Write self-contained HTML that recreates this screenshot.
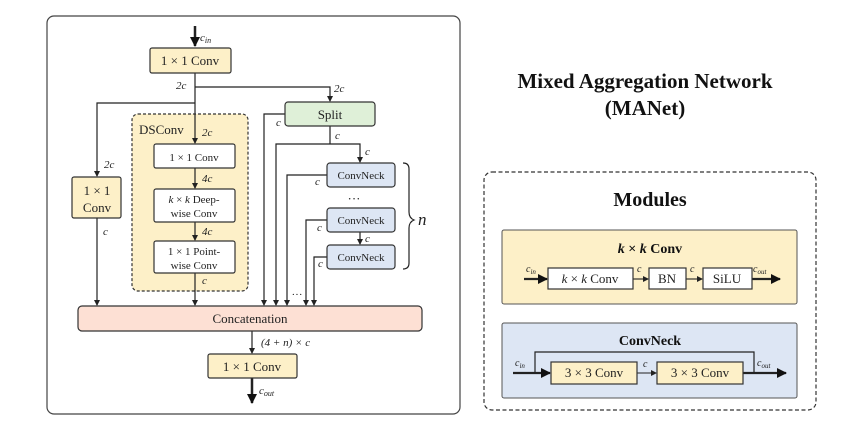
<!DOCTYPE html>
<html><head><meta charset="utf-8"><style>
html,body{margin:0;padding:0;background:#fff;}
svg{display:block;font-family:"Liberation Serif",serif;}
.i{font-style:italic;}
</style></head><body>
<svg width="864" height="432" viewBox="0 0 864 432" xmlns="http://www.w3.org/2000/svg">
<defs>
<marker id="a" markerWidth="6" markerHeight="6" refX="5" refY="3" orient="auto" markerUnits="userSpaceOnUse"><path d="M0,0 L6,3 L0,6 z" fill="#222"/></marker>
<marker id="b" markerWidth="10" markerHeight="10" refX="9" refY="5" orient="auto" markerUnits="userSpaceOnUse"><path d="M0,0 L10,5 L0,10 z" fill="#111"/></marker>
</defs>
<rect x="47" y="16" width="413" height="398" rx="7" fill="#fff" stroke="#444" stroke-width="1.2"/>
<g stroke="#222" stroke-width="1.2" fill="none">
<line x1="195" y1="26" x2="195" y2="46" stroke-width="2.5" marker-end="url(#b)"/>
<line x1="195" y1="73" x2="195" y2="143" marker-end="url(#a)"/>
<polyline points="195,87 330,87 330,101" marker-end="url(#a)"/>
<polyline points="195,103 97,103 97,176" marker-end="url(#a)"/>
<line x1="97" y1="218" x2="97" y2="305" marker-end="url(#a)"/>
</g>
<rect x="132" y="114" width="116" height="177" rx="6" fill="#fdf0c8" stroke="#333" stroke-width="1.2" stroke-dasharray="3,2"/>
<g stroke="#222" stroke-width="1.2" fill="none">
<line x1="195" y1="114" x2="195" y2="143" marker-end="url(#a)"/>
<line x1="195" y1="168" x2="195" y2="188" marker-end="url(#a)"/>
<line x1="195" y1="222" x2="195" y2="240" marker-end="url(#a)"/>
<line x1="195" y1="273" x2="195" y2="305" marker-end="url(#a)"/>
<polyline points="286,114 264,114 264,305" marker-end="url(#a)"/>
<polyline points="330,126 330,144"/>
<polyline points="330,144 276,144 276,305" marker-end="url(#a)"/>
<polyline points="330,144 360,144 360,162" marker-end="url(#a)"/>
<polyline points="327,175 287,175 287,305" marker-end="url(#a)"/>
<polyline points="327,220 306,220 306,305" marker-end="url(#a)"/>
<polyline points="327,257 314,257 314,305" marker-end="url(#a)"/>
<line x1="360" y1="232" x2="360" y2="244" marker-end="url(#a)"/>
<line x1="252" y1="331" x2="252" y2="353" marker-end="url(#a)"/>
<line x1="252" y1="378" x2="252" y2="403" stroke-width="2.5" marker-end="url(#b)"/>
<path d="M403,163 q6,0 6,6 v43 q0,6 5,8 q-5,2 -5,8 v35 q0,6 -6,6"/>
</g>
<g stroke="#333" stroke-width="1.2">
<rect x="150" y="48" width="81" height="25" rx="2" fill="#fdf0c8"/>
<rect x="72" y="177" width="49" height="41" rx="2" fill="#fdf0c8"/>
<rect x="285" y="102" width="90" height="24" rx="3" fill="#dff0d8"/>
<rect x="154" y="144" width="81" height="24" rx="2" fill="#fff"/>
<rect x="154" y="189" width="81" height="33" rx="2" fill="#fff"/>
<rect x="154" y="241" width="81" height="32" rx="2" fill="#fff"/>
<rect x="327" y="163" width="68" height="24" rx="3" fill="#dde6f4"/>
<rect x="327" y="208" width="68" height="24" rx="3" fill="#dde6f4"/>
<rect x="327" y="245" width="68" height="24" rx="3" fill="#dde6f4"/>
<rect x="78" y="306" width="344" height="25" rx="4" fill="#fde0d4"/>
<rect x="208" y="354" width="89" height="24" rx="2" fill="#fdf0c8"/>
</g>
<g font-size="13" fill="#222" text-anchor="middle">
<text x="190" y="65">1 × 1  Conv</text>
<text x="97" y="195">1 × 1</text>
<text x="97" y="212">Conv</text>
<text x="330" y="119">Split</text>
<text x="194" y="161" font-size="11">1 × 1  Conv</text>
<text x="194" y="203" font-size="11"><tspan class="i">k</tspan> × <tspan class="i">k</tspan> Deep-</text>
<text x="194" y="217" font-size="11">wise Conv</text>
<text x="194" y="255" font-size="11">1 × 1  Point-</text>
<text x="194" y="269" font-size="11">wise Conv</text>
<text x="361" y="179" font-size="11">ConvNeck</text>
<text x="361" y="224" font-size="11">ConvNeck</text>
<text x="361" y="261" font-size="11">ConvNeck</text>
<text x="250" y="323">Concatenation</text>
<text x="252" y="371">1 × 1  Conv</text>
<text x="354" y="203">···</text>
<text x="297" y="298" font-size="11">···</text>
</g>
<text x="139" y="134" font-size="13" fill="#222">DSConv</text>
<g font-size="11" fill="#222" class="i">
<text x="200" y="41" font-style="italic">c<tspan font-size="8" dy="2">in</tspan></text>
<text x="176" y="89">2<tspan font-style="italic">c</tspan></text>
<text x="334" y="92">2<tspan font-style="italic">c</tspan></text>
<text x="104" y="168">2<tspan font-style="italic">c</tspan></text>
<text x="202" y="136">2<tspan font-style="italic">c</tspan></text>
<text x="202" y="182">4<tspan font-style="italic">c</tspan></text>
<text x="202" y="235">4<tspan font-style="italic">c</tspan></text>
<text x="202" y="284" font-style="italic">c</text>
<text x="103" y="235" font-style="italic">c</text>
<text x="276" y="126" font-style="italic">c</text>
<text x="335" y="139" font-style="italic">c</text>
<text x="365" y="155" font-style="italic">c</text>
<text x="315" y="185" font-style="italic">c</text>
<text x="317" y="231" font-style="italic">c</text>
<text x="365" y="242" font-style="italic">c</text>
<text x="318" y="267" font-style="italic">c</text>
<text x="261" y="346">(4 + <tspan font-style="italic">n</tspan>) × <tspan font-style="italic">c</tspan></text>
<text x="259" y="394" font-style="italic">c<tspan font-size="8" dy="2">out</tspan></text>
</g>
<text x="418" y="225" font-size="17" font-style="italic" fill="#222">n</text>

<g font-weight="bold" fill="#111" text-anchor="middle" font-size="21">
<text x="645" y="88">Mixed Aggregation Network</text>
<text x="645" y="115">(MANet)</text>
</g>
<rect x="484" y="172" width="332" height="238" rx="8" fill="#fff" stroke="#333" stroke-width="1.2" stroke-dasharray="4,2.5"/>
<text x="650" y="206" font-size="20" font-weight="bold" text-anchor="middle" fill="#111">Modules</text>
<rect x="502" y="230" width="295" height="74" rx="2" fill="#fdf0c8" stroke="#555" stroke-width="1"/>
<text x="650" y="253" font-size="14" font-weight="bold" text-anchor="middle" fill="#111"><tspan font-style="italic">k</tspan> × <tspan font-style="italic">k</tspan>  Conv</text>
<rect x="502" y="323" width="295" height="75" rx="2" fill="#dde6f4" stroke="#555" stroke-width="1"/>
<text x="650" y="345" font-size="14" font-weight="bold" text-anchor="middle" fill="#111">ConvNeck</text>
<g stroke="#222" fill="none">
<line x1="524" y1="279" x2="547" y2="279" stroke-width="2.2" marker-end="url(#b)"/>
<line x1="633" y1="279" x2="648" y2="279" stroke-width="1.1" marker-end="url(#a)"/>
<line x1="686" y1="279" x2="702" y2="279" stroke-width="1.1" marker-end="url(#a)"/>
<line x1="752" y1="279" x2="780" y2="279" stroke-width="2.2" marker-end="url(#b)"/>
<line x1="513" y1="373" x2="550" y2="373" stroke-width="2.2" marker-end="url(#b)"/>
<polyline points="535,373 535,352 754,352 754,373" stroke-width="1.2"/>
<line x1="637" y1="373" x2="656" y2="373" stroke-width="1.1" marker-end="url(#a)"/>
<line x1="743" y1="373" x2="786" y2="373" stroke-width="2.2" marker-end="url(#b)"/>
</g>
<g stroke="#333" stroke-width="1.2">
<rect x="548" y="268" width="85" height="21" fill="#fff"/>
<rect x="649" y="268" width="37" height="21" fill="#fff"/>
<rect x="703" y="268" width="49" height="21" fill="#fff"/>
<rect x="551" y="362" width="86" height="22" fill="#fdf0c8"/>
<rect x="657" y="362" width="86" height="22" fill="#fdf0c8"/>
</g>
<g font-size="13" fill="#222" text-anchor="middle">
<text x="590" y="283"><tspan font-style="italic">k</tspan> × <tspan font-style="italic">k</tspan> Conv</text>
<text x="667" y="283">BN</text>
<text x="727" y="283">SiLU</text>
<text x="594" y="377">3 × 3 Conv</text>
<text x="700" y="377">3 × 3 Conv</text>
</g>
<g font-size="10" font-style="italic" fill="#222">
<text x="526" y="272">c<tspan font-size="7" dy="2">in</tspan></text>
<text x="637" y="272">c</text>
<text x="690" y="272">c</text>
<text x="753" y="272">c<tspan font-size="7" dy="2">out</tspan></text>
<text x="515" y="366">c<tspan font-size="7" dy="2">in</tspan></text>
<text x="643" y="367">c</text>
<text x="757" y="366">c<tspan font-size="7" dy="2">out</tspan></text>
</g>
</svg>
</body></html>
